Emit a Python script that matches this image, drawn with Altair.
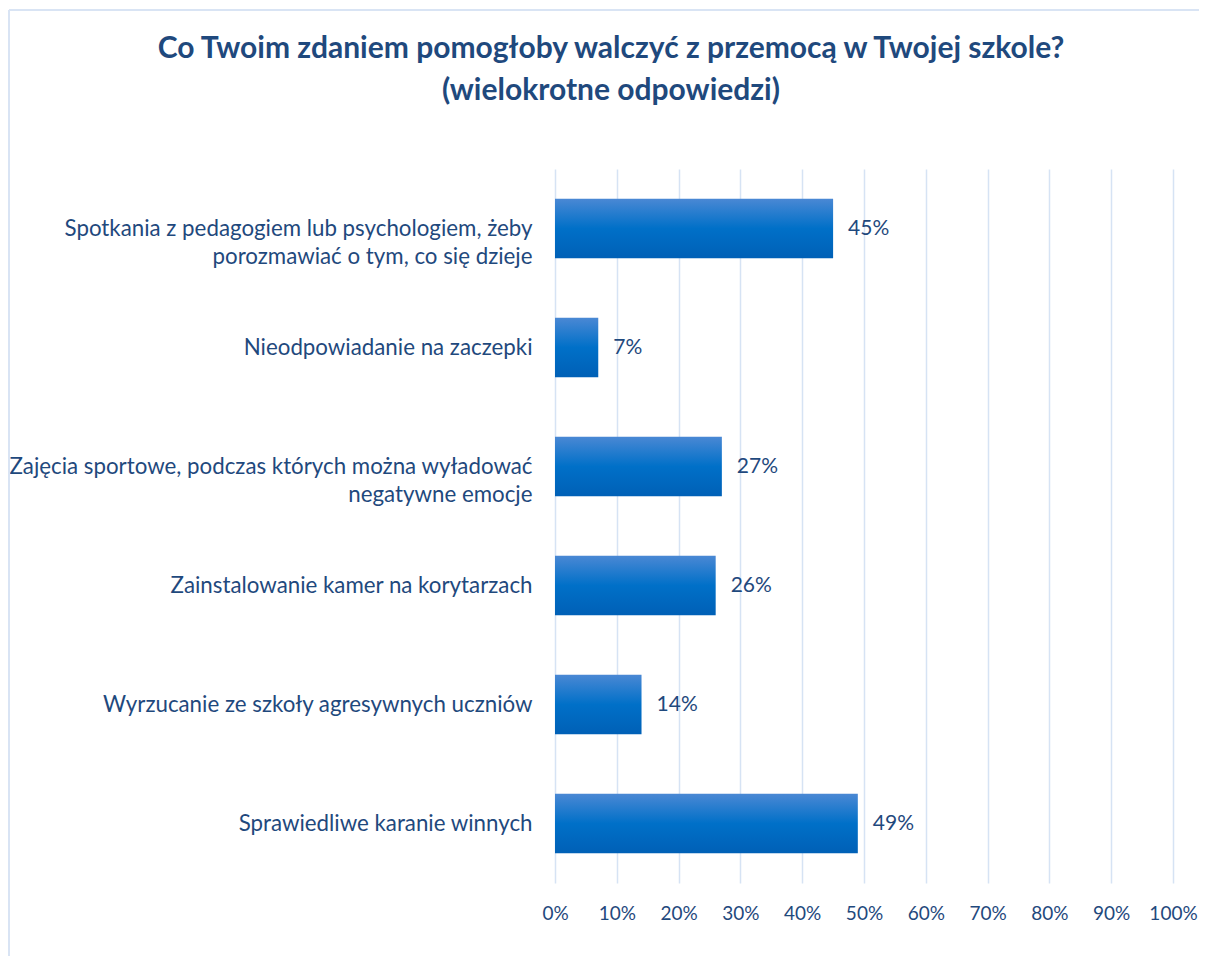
import altair as alt
import pandas as pd

categories = [
    "Spotkania z pedagogiem lub psychologiem, żeby|porozmawiać o tym, co się dzieje",
    "Nieodpowiadanie na zaczepki",
    "Zajęcia sportowe, podczas których można wyładować|negatywne emocje",
    "Zainstalowanie kamer na korytarzach",
    "Wyrzucanie ze szkoły agresywnych uczniów",
    "Sprawiedliwe karanie winnych",
]
values = [0.45, 0.07, 0.27, 0.26, 0.14, 0.49]
tick_values = [0, 0.1, 0.2, 0.3, 0.4, 0.5, 0.6, 0.7, 0.8, 0.9, 1.0]
title_lines = ["Co Twoim zdaniem pomogłoby walczyć z przemocą w Twojej szkole?",
               "(wielokrotne odpowiedzi)"]

df = pd.DataFrame({"cat": categories, "val": values})

FONT = "Lato"
TXT = "#1F497D"
GRID = "#D6E3F4"
BORDER = "#D9E4F4"

gradient = alt.Gradient(
    gradient="linear", x1=0, y1=0, x2=0, y2=1,
    stops=[alt.GradientStop(offset=0, color="#4A88D4"),
           alt.GradientStop(offset=0.5, color="#0070C8"),
           alt.GradientStop(offset=1, color="#0060B6")],
)

y_enc = alt.Y("cat:N", sort=None,
              scale=alt.Scale(paddingInner=0.5, paddingOuter=0.25),
              axis=alt.Axis(title=None, domain=False, ticks=False, labelPadding=23,
                            labelFontSize=22.3, labelFont=FONT, labelColor=TXT,
                            labelLineHeight=28, labelLimit=0,
                            labelExpr="split(datum.label, '|')"))
x_enc = alt.X("val:Q", scale=alt.Scale(domain=[0, 1], nice=False),
              axis=alt.Axis(title=None, values=tick_values, format=".0%", grid=True,
                            gridColor=GRID, gridWidth=1.5, domain=False, ticks=False,
                            labelPadding=21, labelFontSize=19, labelFont=FONT,
                            labelColor=TXT, labelFlush=False, labelOverlap=False))

bars = alt.Chart(df).mark_bar(fill=gradient).encode(x=x_enc, y=y_enc)
labels = alt.Chart(df).mark_text(align="left", baseline="middle", dx=15, fontSize=21,
                                 font=FONT, color=TXT).encode(
    x="val:Q", y=alt.Y("cat:N", sort=None), text=alt.Text("val:Q", format=".0%"))

border_left = alt.Chart(df).mark_rule(color=BORDER, strokeWidth=2).encode(
    x=alt.value(-546), y=alt.value(-159), y2=alt.value(820))
border_top = alt.Chart(df).mark_rule(color=BORDER, strokeWidth=2).encode(
    x=alt.value(-546), x2=alt.value(660), y=alt.value(-159))

chart = alt.layer(border_left, border_top, bars, labels).properties(
    width=618, height=714,
    autosize=alt.AutoSizeParams(type="none"),
    padding={"left": 547, "top": 161, "right": 26, "bottom": 73},
    title=alt.TitleParams(text=title_lines, fontSize=30, font=FONT, fontWeight="bold",
                          color=TXT, anchor="middle", frame="group", dx=-253,
                          offset=-97, lineHeight=42),
).configure_view(stroke=None)

chart.save("out.html", embed_options={"renderer": "svg", "actions": False})
